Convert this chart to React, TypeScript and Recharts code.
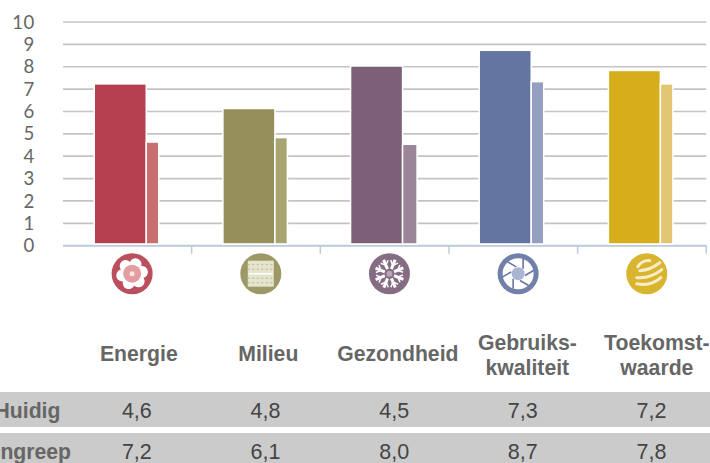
import { BarChart, Bar, XAxis, YAxis, CartesianGrid } from 'recharts';

const categories = ['Energie', 'Milieu', 'Gezondheid', 'Gebruikskwaliteit', 'Toekomstwaarde'];
const labelLines = [['Energie'], ['Milieu'], ['Gezondheid'], ['Gebruiks-', 'kwaliteit'], ['Toekomst-', 'waarde']];
const huidig = [4.6, 4.8, 4.5, 7.3, 7.2];
const ingreep = [7.2, 6.1, 8.0, 8.7, 7.8];
const yTicks = [0, 1, 2, 3, 4, 5, 6, 7, 8, 9, 10];
const rowNames = ['Huidig', 'Ingreep'];

const darkColors = ['#b54050', '#958f59', '#7b6078', '#6475a1', '#d6ae1b'];
const lightColors = ['#c96f70', '#a9a570', '#9b8599', '#949fc1', '#e2c673'];
const barNudge = [-1, -1, -2, -2, -1.5];
const axisColor = '#b9cbe0';

const plotLeft = 63;
const plotRight = 3.7;
const halfBand = (710 - plotLeft - plotRight) / categories.length / 2;

const data = categories.map((category, i) => ({ category, huidig: huidig[i], ingreep: ingreep[i] }));

const textColor = '#666666';
const comma = (v: number) => v.toFixed(1).replace('.', ',');

// white halo round each bar, and a small gap above the axis line
function makeBarShape(colors: string[], narrow: boolean) {
  return function BarShape(props: any) {
    const { x, y, width, height, index } = props;
    const w = narrow && index === 2 ? width + 2 : width;
    const left = x + barNudge[index];
    return (
      <g>
        <rect x={left - 1.5} y={y - 1.5} width={w + 3} height={height + 1.5} fill="#ffffff" />
        <rect x={left} y={y} width={w} height={height - 2.5} fill={colors[index]} />
      </g>
    );
  };
}

function Icon({ index }: { index: number }) {
  const color = darkColors[index];
  const angles = [0, 45, 90, 135, 180, 225, 270, 315];
  return (
    <g filter="url(#soft)">
      <circle r={20.5} fill={color} opacity={0.92} />
      {index === 0 && (
        <g>
          {[0, 60, 120, 180, 240, 300].map((a) => (
            <circle key={a} r={6} cy={-10} fill="#ffffff" transform={`rotate(${a + 20})`} />
          ))}
          <circle r={12} fill="#ffffff" />
          <circle r={9} fill="#e39c9f" />
          <circle r={2.5} fill="#f8e6e6" />
        </g>
      )}
      {index === 1 && (
        <g>
          <rect x={-13} y={-13} width={26} height={26} fill="#e4e4cf" />
          {[-9, -4.5, 4.5, 9].map((v) => (
            <line key={v} x1={-13} x2={13} y1={v} y2={v} stroke="#b9b88f" strokeWidth={1} strokeDasharray="2 2.5" />
          ))}
          <line x1={-12} x2={12} y1={0} y2={0} stroke="#ffffff" strokeWidth={1.5} />
        </g>
      )}
      {index === 2 && (
        <g stroke="#ffffff" strokeWidth={3}>
          {angles.map((a) => (
            <g key={a} transform={`rotate(${a + 22})`}>
              <line x1={0} y1={-5} x2={0} y2={-15} />
              <line x1={0} y1={-9} x2={-4} y2={-13} strokeWidth={1.5} />
              <line x1={0} y1={-9} x2={4} y2={-13} strokeWidth={1.5} />
            </g>
          ))}
          <circle r={3} fill="#b9a6b8" stroke="none" />
        </g>
      )}
      {index === 3 && (
        <g>
          <circle r={15.5} fill="#ffffff" />
          {[0, 60, 120, 180, 240, 300].map((a) => (
            <line key={a} x1={5} y1={-5} x2={5} y2={-15} stroke={color} strokeWidth={1.6} transform={`rotate(${a})`} />
          ))}
          <circle r={6.5} fill="#aab5d2" />
        </g>
      )}
      {index === 4 && (
        <g fill="none" stroke="#f7edc8" strokeLinecap="round">
          <path d="M-9 -7 Q-4 -14 3 -13" strokeWidth={3} />
          <path d="M-7 -3 Q4 -4 13 -11" strokeWidth={3} />
          <path d="M-10 4 Q4 5 15 -4" strokeWidth={3} />
          <path d="M-10 10 Q4 13 14 4" strokeWidth={3} />
        </g>
      )}
    </g>
  );
}

// divider mark, icon, heading and the two table values hang under each category
function CategoryTick(props: any) {
  const { x, y, index } = props;
  const lines = labelLines[index];
  const headingY = lines.length === 1 ? [108] : [97.5, 122];
  return (
    <g>
      <line x1={x + halfBand} x2={x + halfBand} y1={y} y2={y + 8} stroke={axisColor} strokeWidth={1.5} />
      <g transform={`translate(${x + 4.8},${y + 28})`}>
        <Icon index={index} />
      </g>
      {lines.map((line, i) => (
        <text
          key={line}
          x={x + 11.5 + index * 0.85}
          y={y + headingY[i] + 7}
          textAnchor="middle"
          fontFamily="Liberation Sans"
          fontWeight="bold"
          fontSize={21.2}
          fill={textColor}
        >
          {line}
        </text>
      ))}
      <text x={x + 9.5} y={y + 172} textAnchor="middle" fontFamily="Liberation Sans" fontSize={21.5} fill="#444444">
        {comma(huidig[index])}
      </text>
      <text x={x + 9.5} y={y + 213} textAnchor="middle" fontFamily="Liberation Sans" fontSize={21.5} fill="#444444">
        {comma(ingreep[index])}
      </text>
    </g>
  );
}

const rowStyle = {
  position: 'absolute',
  left: 0,
  width: 710,
  background: '#cbcbcb',
  fontFamily: 'Liberation Sans',
  fontWeight: 'bold',
  fontSize: 21.2,
  color: textColor,
  whiteSpace: 'nowrap',
  textIndent: -5.5,
} as const;

export default function App() {
  return (
    <div style={{ position: 'fixed', left: 0, top: 0, width: 710, height: 463, overflow: 'hidden', background: '#ffffff' }}>
      <div style={{ ...rowStyle, top: 392, height: 35, lineHeight: '37px' }}>{rowNames[0]}</div>
      <div style={{ ...rowStyle, top: 433, height: 30, lineHeight: '37px' }}>{rowNames[1]}</div>
      <div style={{ position: 'absolute', left: 0, top: 0 }}>
        <BarChart
          width={710}
          height={463}
          data={data}
          margin={{ top: 22, right: plotRight, left: 0, bottom: 0 }}
          barGap={1.5}
        >
          <defs>
            <filter id="soft" x="-10%" y="-10%" width="120%" height="120%">
              <feGaussianBlur stdDeviation={0.7} />
            </filter>
          </defs>
          <CartesianGrid vertical={false} stroke="#c4c4c4" strokeWidth={1.7} />
          <XAxis
            dataKey="category"
            height={217.3}
            axisLine={{ stroke: axisColor, strokeWidth: 1.5 }}
            tickLine={false}
            tickSize={0}
            tickMargin={0}
            interval={0}
            tick={CategoryTick}
          />
          <YAxis
            domain={[0, 10]}
            ticks={yTicks}
            width={plotLeft}
            axisLine={false}
            tickLine={false}
            tickSize={0}
            tickMargin={28}
            interval={0}
            fontFamily="Lato"
            fontSize={18.6}
            letterSpacing={0.6}
            tick={{ fill: textColor }}
          />
          <Bar dataKey="ingreep" barSize={50.5} isAnimationActive={false} shape={makeBarShape(darkColors, false)} />
          <Bar dataKey="huidig" barSize={11} isAnimationActive={false} shape={makeBarShape(lightColors, true)} />
        </BarChart>
      </div>
    </div>
  );
}
